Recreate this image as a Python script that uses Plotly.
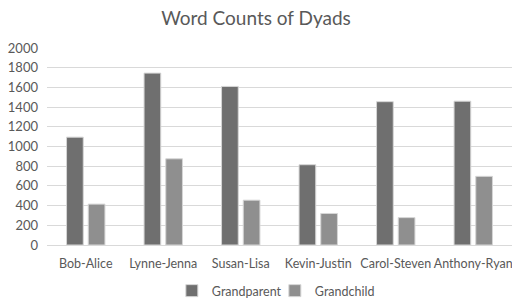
import plotly.graph_objects as go

categories = ["Bob-Alice", "Lynne-Jenna", "Susan-Lisa", "Kevin-Justin", "Carol-Steven", "Anthony-Ryan"]
grandparent = [1095, 1745, 1610, 815, 1455, 1460]
grandchild = [415, 875, 455, 320, 278, 697]
y_ticks = [0, 200, 400, 600, 800, 1000, 1200, 1400, 1600, 1800, 2000]

font_family = "Lato, 'Open Sans', sans-serif"
text_color = "#595959"

fig = go.Figure()
fig.add_trace(go.Bar(name="Grandparent", x=categories, y=grandparent,
                     marker=dict(color="#6f6f6f", line=dict(color="#d6d6d6", width=1))))
fig.add_trace(go.Bar(name="Grandchild", x=categories, y=grandchild,
                     marker=dict(color="#8f8f8f", line=dict(color="#d6d6d6", width=1))))

fig.update_layout(
    width=512, height=300,
    margin=dict(l=47, r=0, t=48, b=55, autoexpand=False),
    paper_bgcolor="white", plot_bgcolor="white",
    barmode="group", bargap=0.44, bargroupgap=0.23,
    title=dict(text="Word Counts of Dyads", x=0.5, xanchor="center",
               yref="container", y=1 - 18 / 300, yanchor="middle",
               font=dict(family=font_family, size=19, color=text_color)),
    font=dict(family=font_family, size=12.5, color=text_color),
    xaxis=dict(showgrid=False, showline=True, linecolor="#d9d9d9", ticks="", tickangle=0,
               ticklabelstandoff=7, tickfont=dict(size=12.5, color=text_color)),
    yaxis=dict(range=[0, 2000], tickvals=y_ticks, gridcolor="#d9d9d9", zeroline=False,
               showline=False, ticks="", ticklabelstandoff=8,
               tickfont=dict(size=13, color=text_color)),
    legend=dict(orientation="h", x=0.49, xanchor="center",
                yref="container", y=9 / 300, yanchor="middle",
                font=dict(size=12.5, color=text_color), entrywidth=58, entrywidthmode="pixels"),
    showlegend=True,
)

fig.write_html("out.html", post_script="document.body.style.margin='0';",
               config={"displayModeBar": False})
